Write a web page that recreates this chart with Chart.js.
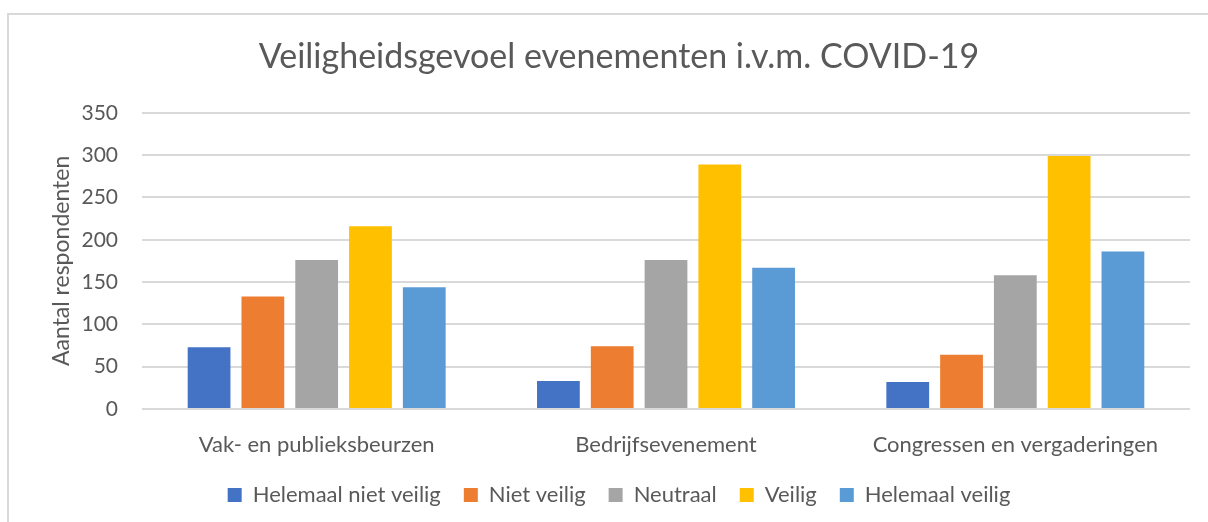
<!DOCTYPE html>
<html>
<head>
<meta charset="utf-8">
<script src="https://cdn.jsdelivr.net/npm/chart.js@4.4.1/dist/chart.umd.min.js"></script>
<style>
  html, body { margin: 0; padding: 0; background: #fff; }
  #wrap { position: relative; width: 1208px; height: 522px; overflow: hidden; }
  #frame { position: absolute; left: 7px; top: 13px; width: 1400px; height: 700px; border: 2px solid #d9d9d9; }
  #chart { position: absolute; left: 0; top: 0; }
</style>
</head>
<body>
<div id="wrap">
  <div id="frame"></div>
  <canvas id="chart" width="1208" height="522"></canvas>
</div>
<script>
// data
const categories = ['Vak- en publieksbeurzen', 'Bedrijfsevenement', 'Congressen en vergaderingen'];
const helemaalNietVeilig = [73, 33, 32];
const nietVeilig = [133, 74, 64];
const neutraal = [176, 176, 158];
const veilig = [216, 289, 299];
const helemaalVeilig = [144, 167, 186];
const yTicks = [0, 50, 100, 150, 200, 250, 300, 350];

const TEXT = '#595959';
const FONT = 'Lato';

const series = [
    { label: 'Helemaal niet veilig', data: helemaalNietVeilig, color: '#4472c4' },
    { label: 'Niet veilig', data: nietVeilig, color: '#ed7d31' },
    { label: 'Neutraal', data: neutraal, color: '#a5a5a5' },
    { label: 'Veilig', data: veilig, color: '#ffc000' },
    { label: 'Helemaal veilig', data: helemaalVeilig, color: '#5b9bd5' }
];

const ctx = document.getElementById('chart').getContext('2d');
new Chart(ctx, {
    type: 'bar',
    data: {
        labels: categories,
        datasets: series.map(s => ({
            label: s.label,
            data: s.data,
            backgroundColor: s.color,
            borderWidth: 0,
            categoryPercentage: 0.77,
            barPercentage: 0.795
        }))
    },
    options: {
        responsive: false,
        animation: false,
        devicePixelRatio: 1,
        layout: { padding: { top: 37, left: 48, right: 18, bottom: 6 } },
        plugins: {
            title: {
                display: true,
                text: 'Veiligheidsgevoel evenementen i.v.m. COVID-19',
                color: TEXT,
                font: { family: FONT, size: 34, weight: 'normal' },
                padding: { top: 0, bottom: 35 }
            },
            legend: {
                position: 'bottom',
                labels: {
                    color: TEXT,
                    font: { family: FONT, size: 22 },
                    boxWidth: 14,
                    boxHeight: 14,
                    padding: 23
                }
            },
            tooltip: { enabled: false }
        },
        scales: {
            x: {
                grid: { display: false },
                border: { display: false },
                ticks: { color: TEXT, font: { family: FONT, size: 22 }, padding: 15 },
                afterFit: axis => { axis.height = 52; }
            },
            y: {
                min: 0,
                max: 350,
                afterBuildTicks: axis => { axis.ticks = yTicks.map(v => ({ value: v })); },
                afterFit: axis => { axis.width = 94; },
                grid: { color: '#d9d9d9', lineWidth: 2, drawTicks: false },
                border: { display: false },
                ticks: { color: TEXT, font: { family: FONT, size: 21 }, padding: 24 },
                title: {
                    display: true,
                    text: 'Aantal respondenten',
                    color: TEXT,
                    font: { family: FONT, size: 23 },
                    padding: { top: 0, bottom: 6 }
                }
            }
        }
    }
});
</script>
</body>
</html>
